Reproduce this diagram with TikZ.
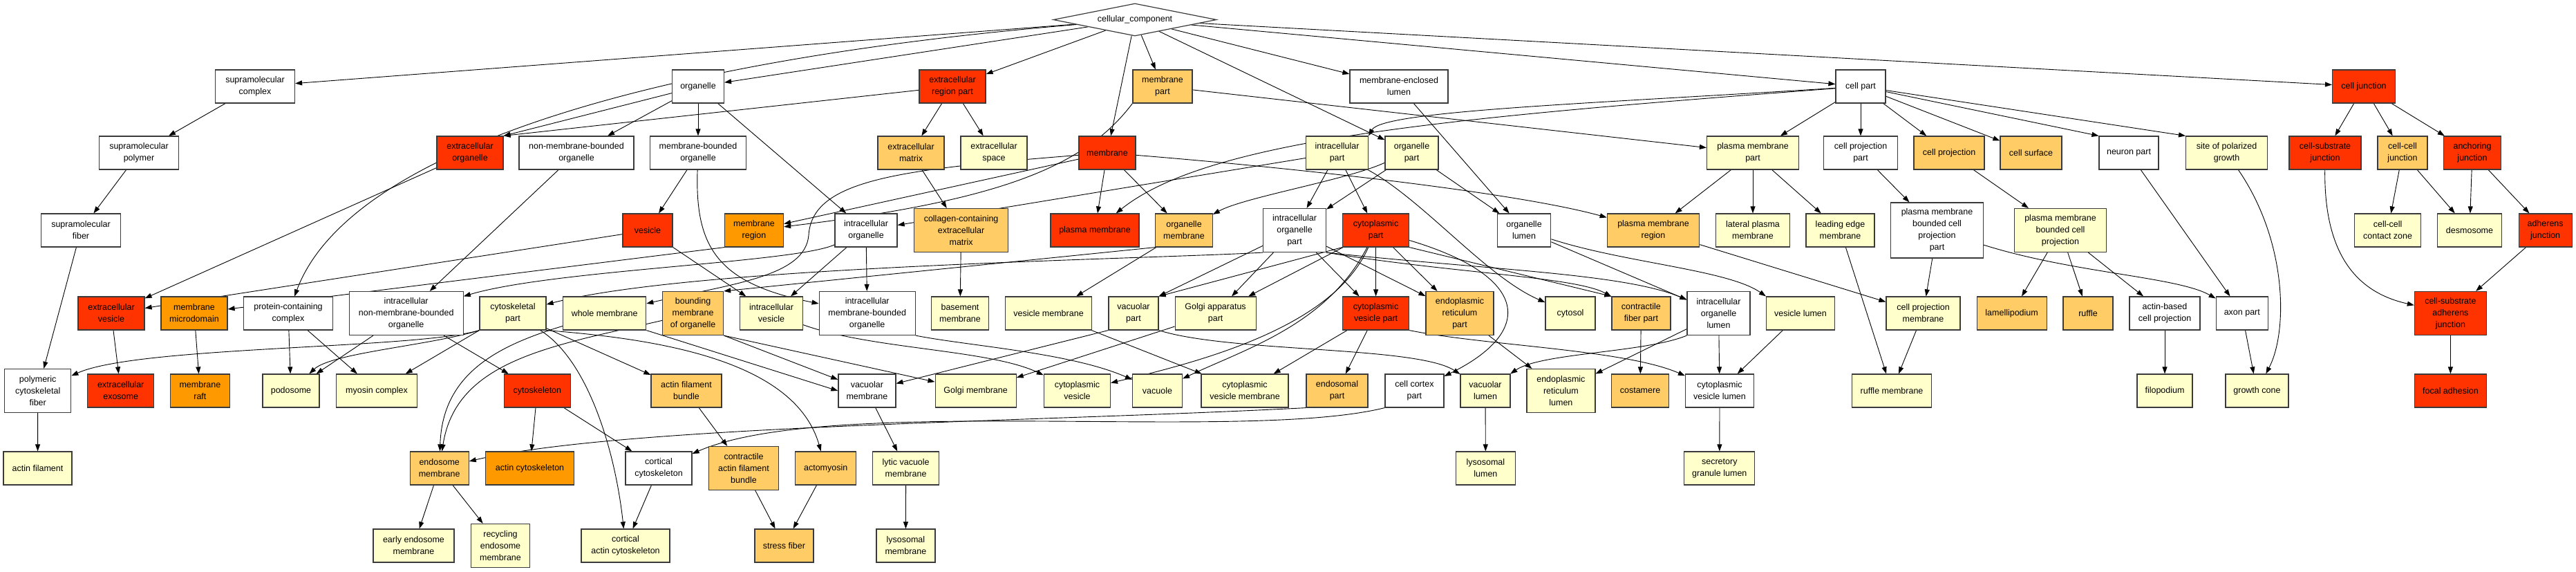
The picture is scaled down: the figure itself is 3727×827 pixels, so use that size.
\documentclass[tikz,border=0pt]{standalone}
\usepackage{fontspec}
\setmainfont{Liberation Sans}
\usetikzlibrary{shapes.geometric,arrows.meta,backgrounds}
\definecolor{cR}{HTML}{FF3300}
\definecolor{cO}{HTML}{FF9900}
\definecolor{cL}{HTML}{FFCC66}
\definecolor{cY}{HTML}{FFFFCC}
\definecolor{bord}{HTML}{3A3A3A}
\newcommand\GN[6]{\node[gb,#2,minimum width=#3pt] (#1) at (#4,#5) {#6};}
\begin{document}
\begin{tikzpicture}[x=1pt,y=-1pt,
 gb/.style={rectangle,draw=bord,line width=1.2pt,align=center,inner sep=0pt,minimum height=48pt,font=\fontsize{12.5}{17}\selectfont},
 h3box/.style={minimum height=63pt},
 h4box/.style={minimum height=80pt},
 gd/.style={diamond,draw=bord,line width=1.2pt,fill=white,aspect=5,minimum width=236pt,minimum height=47pt,inner sep=0pt,font=\fontsize{12.5}{17}\selectfont},
 ge/.style={draw=black,line width=0.9pt,-{Triangle[length=10pt,width=7pt]}}]
\useasboundingbox (0,0) rectangle (3727,827);
% ---------- nodes ----------
\node[gd] (cc) at (1642,28.5) {cellular\_component};
% row 1
\GN{supc}{fill=white}{115}{369}{125}{supramolecular\\complex}
\GN{org}{fill=white}{75}{1010}{125}{organelle}
\GN{erp}{fill=cR}{96}{1378}{125}{extracellular\\region part}
\GN{mpart}{fill=cL}{86}{1682}{125}{membrane\\part}
\GN{mel}{fill=white}{142}{2024}{125}{membrane-enclosed\\lumen}
\GN{cpart}{fill=white}{72}{2692}{125}{cell part}
\GN{cj}{fill=cR}{91}{3420}{125}{cell junction}
% row 2
\GN{supp}{fill=white}{115}{201}{221}{supramolecular\\polymer}
\GN{eorg}{fill=cR}{96}{680}{221}{extracellular\\organelle}
\GN{nmbo}{fill=white}{166}{834}{221}{non-membrane-bounded\\organelle}
\GN{mbo}{fill=white}{139}{1010}{221}{membrane-bounded\\organelle}
\GN{ecm}{fill=cL}{96}{1318}{221}{extracellular\\matrix}
\GN{esp}{fill=cY}{96}{1438}{221}{extracellular\\space}
\GN{mem}{fill=cR}{82}{1602}{221}{membrane}
\GN{icp}{fill=cY}{90}{1934.5}{221}{intracellular\\part}
\GN{orgp}{fill=cY}{77}{2042.5}{221}{organelle\\part}
\GN{pmp}{fill=cY}{133}{2536}{221}{plasma membrane\\part}
\GN{cpp}{fill=white}{107}{2692}{221}{cell projection\\part}
\GN{cproj}{fill=cL}{102}{2820}{221}{cell projection}
\GN{csurf}{fill=cL}{89}{2938.5}{221}{cell surface}
\GN{neur}{fill=white}{86}{3080}{221}{neuron part}
\GN{spg}{fill=cY}{118}{3221.6}{221}{site of polarized\\growth}
\GN{csj}{fill=cR}{104}{3364}{221}{cell-substrate\\junction}
\GN{ccj}{fill=cL}{72}{3476}{221}{cell-cell\\junction}
\GN{aj}{fill=cR}{83}{3577}{221}{anchoring\\junction}
% row 3
\GN{supf}{fill=white}{115}{117}{333}{supramolecular\\fiber}
\GN{ves}{fill=cR}{72}{937}{333}{vesicle}
\GN{mreg}{fill=cO}{85}{1091}{333}{membrane\\region}
\GN{iorg}{fill=white}{90}{1253}{333}{intracellular\\organelle}
\GN{cecm}{fill=cL,h3box}{136}{1390.6}{333}{collagen-containing\\extracellular\\matrix}
\GN{pm}{fill=cR}{128}{1584}{333}{plasma membrane}
\GN{om}{fill=cL}{82.5}{1713}{333}{organelle\\membrane}
\GN{iop}{fill=white,h3box}{91}{1873}{333}{intracellular\\organelle\\part}
\GN{cytp}{fill=cR}{96}{1990.6}{333}{cytoplasmic\\part}
\GN{olum}{fill=white}{77.5}{2205}{333}{organelle\\lumen}
\GN{pmr}{fill=cL}{133.5}{2392}{333}{plasma membrane\\region}
\GN{lpm}{fill=cY}{107}{2536}{333}{lateral plasma\\membrane}
\GN{lem}{fill=cY}{99}{2662.5}{333}{leading edge\\membrane}
\GN{pmbcpp}{fill=white,h4box}{134}{2802.5}{333}{plasma membrane\\bounded cell\\projection\\part}
\GN{pmbcp}{fill=cY,h3box}{133}{2981}{333}{plasma membrane\\bounded cell\\projection}
\GN{cccz}{fill=cY}{96}{3454.6}{333}{cell-cell\\contact zone}
\GN{desm}{fill=cY}{93}{3573}{333}{desmosome}
\GN{adj}{fill=cR}{77}{3682.6}{333}{adherens\\junction}
% row 4
\GN{ev}{fill=cR}{96}{161}{453}{extracellular\\vesicle}
\GN{mmd}{fill=cO}{96}{281}{453}{membrane\\microdomain}
\GN{pcc}{fill=white}{129}{417}{453}{protein-containing\\complex}
\GN{inmbo}{fill=white,h3box}{165}{587.7}{453}{intracellular\\non-membrane-bounded\\organelle}
\GN{cskp}{fill=cY}{96}{742}{453}{cytoskeletal\\part}
\GN{wm}{fill=cY}{120}{874.7}{453}{whole membrane}
\GN{bmo}{fill=cL,h3box}{88}{1002.6}{453}{bounding\\membrane\\of organelle}
\GN{iv}{fill=cY}{91}{1116}{453}{intracellular\\vesicle}
\GN{imbo}{fill=white,h3box}{139}{1254.7}{453}{intracellular\\membrane-bounded\\organelle}
\GN{bm}{fill=cY}{83}{1389}{453}{basement\\membrane}
\GN{vm}{fill=cY}{125}{1517}{453}{vesicle membrane}
\GN{vp}{fill=cY}{72}{1640}{453}{vacuolar\\part}
\GN{gap}{fill=cY}{117}{1758.6}{453}{Golgi apparatus\\part}
\GN{cvp}{fill=cR}{96}{1990.6}{453}{cytoplasmic\\vesicle part}
\GN{erpt}{fill=cL,h3box}{98}{2112}{453}{endoplasmic\\reticulum\\part}
\GN{cytosol}{fill=cY}{72}{2272}{453}{cytosol}
\GN{cfp}{fill=cL}{85}{2374.4}{453}{contractile\\fiber part}
\GN{iol}{fill=white,h3box}{91}{2486.5}{453}{intracellular\\organelle\\lumen}
\GN{vl}{fill=cY}{99}{2605}{453}{vesicle lumen}
\GN{cpm}{fill=cY}{107}{2782.5}{453}{cell projection\\membrane}
\GN{lam}{fill=cL}{101}{2910.6}{453}{lamellipodium}
\GN{ruf}{fill=cL}{72}{3021}{453}{ruffle}
\GN{abcp}{fill=white}{102}{3132}{453}{actin-based\\cell projection}
\GN{axp}{fill=white}{75}{3243.8}{453}{axon part}
\GN{csaj}{fill=cR,h3box}{104}{3545.4}{453}{cell-substrate\\adherens\\junction}
% row 5
\GN{pcf}{fill=white,h3box}{96}{54.7}{565}{polymeric\\cytoskeletal\\fiber}
\GN{eexo}{fill=cR}{96}{174.7}{565}{extracellular\\exosome}
\GN{mraft}{fill=cO}{86}{289.4}{565}{membrane\\raft}
\GN{podo}{fill=cY}{82}{421}{565}{podosome}
\GN{myo}{fill=cY}{117}{545}{565}{myosin complex}
\GN{csk}{fill=cR}{96}{777.4}{565}{cytoskeleton}
\GN{afb}{fill=cL}{102}{993}{565}{actin filament\\bundle}
\GN{vacm}{fill=white}{83}{1254.4}{565}{vacuolar\\membrane}
\GN{golm}{fill=cY}{117}{1411.6}{565}{Golgi membrane}
\GN{cv}{fill=cY}{96}{1558.4}{565}{cytoplasmic\\vesicle}
\GN{vac}{fill=cY}{72}{1674.5}{565}{vacuole}
\GN{cvm}{fill=cY}{126}{1801}{565}{cytoplasmic\\vesicle membrane}
\GN{endp}{fill=cL}{89}{1934.5}{565}{endosomal\\part}
\GN{ccp}{fill=white}{85}{2046.4}{565}{cell cortex\\part}
\GN{vlum}{fill=cY}{72}{2149}{565}{vacuolar\\lumen}
\GN{erl}{fill=cY,h3box}{99}{2258.4}{565}{endoplasmic\\reticulum\\lumen}
\GN{cost}{fill=cL}{83}{2373}{565}{costamere}
\GN{cvl}{fill=white}{99}{2488}{565}{cytoplasmic\\vesicle lumen}
\GN{rm}{fill=cY}{115}{2737}{565}{ruffle membrane}
\GN{filo}{fill=cY}{80}{3132}{565}{filopodium}
\GN{gc}{fill=cY}{91}{3265.4}{565}{growth cone}
\GN{fa}{fill=cR}{104}{3545.4}{565}{focal adhesion}
% row 6
\GN{af}{fill=cY}{99}{54.5}{677}{actin filament}
\GN{endm}{fill=cL}{85}{635.7}{677}{endosome\\membrane}
\GN{acsk}{fill=cO}{128}{766.5}{677}{actin cytoskeleton}
\GN{ccsk}{fill=white}{96}{953}{677}{cortical\\cytoskeleton}
\GN{cafb}{fill=cL,h3box}{101}{1076}{677}{contractile\\actin filament\\bundle}
\GN{actm}{fill=cL}{88}{1194.7}{677}{actomyosin}
\GN{lvm}{fill=cY}{96}{1310.6}{677}{lytic vacuole\\membrane}
\GN{lysl}{fill=cY}{86}{2149.4}{677}{lysosomal\\lumen}
\GN{sgl}{fill=cY}{102}{2487.8}{677}{secretory\\granule lumen}
% row 7
\GN{eem}{fill=cY}{117}{598.5}{789}{early endosome\\membrane}
\GN{rem}{fill=cY,h3box}{85}{724}{789}{recycling\\endosome\\membrane}
\GN{cacsk}{fill=cY}{128}{905}{789}{cortical\\actin cytoskeleton}
\GN{sf}{fill=cL}{85}{1134.4}{789}{stress fiber}
\GN{lysm}{fill=cY}{85}{1310.4}{789}{lysosomal\\membrane}
% ---------- edges ----------
\begin{scope}[on background layer]
\fill[white] (0,0) rectangle (3727,827);
\draw[ge] (cc) -- (supc);
\draw[ge] (cc) .. controls (900,90) and (500,230) .. (pcc);
\draw[ge] (cc) -- (org);
\draw[ge] (cc) -- (erp);
\draw[ge] (cc) -- (mem);
\draw[ge] (cc) -- (mpart);
\draw[ge] (cc) -- (mel);
\draw[ge] (cc) -- (orgp);
\draw[ge] (cc) -- (cpart);
\draw[ge] (cc) -- (cj);
\draw[ge] (supc) -- (supp);
\draw[ge] (supp) -- (supf);
\draw[ge] (supf) -- (pcf);
\draw[ge] (org) -- (eorg.north east);
\draw[ge] (org) -- (nmbo);
\draw[ge] (org) -- (mbo);
\draw[ge] (org) -- (iorg);
\draw[ge] (erp) -- (eorg.north east);
\draw[ge] (erp) -- (ecm);
\draw[ge] (erp) -- (esp);
\draw[ge] (mpart.south west) .. controls (1570,240) and (1450,290) .. (mreg);
\draw[ge] (mpart) -- (pmp);
\draw[ge] (mem) -- (pm);
\draw[ge] (mem) -- (om);
\draw[ge] (mem) -- (mreg);
\draw[ge] (mem) .. controls (1300,245) and (1175,260) .. (1170,340) .. controls (1165,400) and (1060,410) .. (wm);
\draw[ge] (mem) .. controls (1900,245) and (2200,280) .. (pmr);
\draw[ge] (mel) -- (olum);
\draw[ge] (cpart) .. controls (2300,150) and (2000,160) .. (icp.north east);
\draw[ge] (cpart) .. controls (2100,170) and (1750,200) .. (pm);
\draw[ge] (cpart) -- (pmp);
\draw[ge] (cpart) -- (cpp);
\draw[ge] (cpart) -- (cproj);
\draw[ge] (cpart) -- (csurf);
\draw[ge] (cpart) -- (neur.north west);
\draw[ge] (cpart) -- (spg.north west);
\draw[ge] (cj) -- (csj);
\draw[ge] (cj) -- (ccj);
\draw[ge] (cj) -- (aj);
\draw[ge] (eorg) -- (ev);
\draw[ge] (nmbo) -- (inmbo);
\draw[ge] (mbo) -- (ves);
\draw[ge] (mbo) .. controls (1005,360) and (1040,410) .. (imbo);
\draw[ge] (ecm) -- (cecm);
\draw[ge] (icp) -- (iorg);
\draw[ge] (icp) -- (iop);
\draw[ge] (icp) -- (cytp);
\draw[ge] (icp) .. controls (2060,290) and (2150,400) .. (cytosol);
\draw[ge] (orgp.-160) .. controls (1950,260) and (1800,285) .. (om);
\draw[ge] (orgp) -- (iop);
\draw[ge] (orgp) -- (olum);
\draw[ge] (pmp) -- (pmr);
\draw[ge] (pmp) -- (lpm);
\draw[ge] (pmp) -- (lem);
\draw[ge] (cpp) -- (pmbcpp);
\draw[ge] (cproj) -- (pmbcp);
\draw[ge] (neur) -- (axp);
\draw[ge] (spg) .. controls (3310,350) and (3310,480) .. (gc);
\draw[ge] (csj) .. controls (3362,380) and (3420,425) .. (csaj);
\draw[ge] (ccj) -- (cccz);
\draw[ge] (ccj) -- (desm);
\draw[ge] (aj) -- (desm);
\draw[ge] (aj) -- (adj);
\draw[ge] (ves) -- (ev);
\draw[ge] (ves) -- (iv);
\draw[ge] (mreg.south west) -- (mmd);
\draw[ge] (iorg) .. controls (1150,380) and (800,390) .. (inmbo);
\draw[ge] (iorg) -- (imbo);
\draw[ge] (iorg) -- (iv);
\draw[ge] (cecm) -- (bm);
\draw[ge] (om.south west) -- (bmo.north east);
\draw[ge] (om) -- (vm);
\draw[ge] (iop.south west) .. controls (1650,375) and (1000,385) .. (cskp);
\draw[ge] (iop) -- (vp.north east);
\draw[ge] (iop) -- (gap);
\draw[ge] (iop) -- (cvp);
\draw[ge] (iop) -- (erpt);
\draw[ge] (iop.south east) .. controls (2150,390) and (2350,395) .. (iol);
\draw[ge] (iop.south east) .. controls (2100,395) and (2280,400) .. (cfp);
\draw[ge] (cytp.south west) -- (vp.north east);
\draw[ge] (cytp) -- (gap);
\draw[ge] (cytp) -- (cvp);
\draw[ge] (cytp) -- (erpt);
\draw[ge] (cytp) .. controls (1930,470) and (1750,520) .. (cv);
\draw[ge] (cytp) .. controls (1920,470) and (1800,505) .. (vac);
\draw[ge] (cytp) .. controls (2215,400) and (2220,480) .. (ccp);
\draw[ge] (cytp.south east) -- (cfp.north west);
\draw[ge] (olum) -- (iol);
\draw[ge] (olum) .. controls (2350,380) and (2500,390) .. (vl.north west);
\draw[ge] (pmr) -- (cpm);
\draw[ge] (lem) -- (rm);
\draw[ge] (pmbcpp) -- (cpm);
\draw[ge] (pmbcpp) .. controls (3000,395) and (3150,400) .. (axp);
\draw[ge] (pmbcp) -- (lam);
\draw[ge] (pmbcp) -- (ruf);
\draw[ge] (pmbcp) -- (abcp);
\draw[ge] (adj) -- (csaj);
\draw[ge] (ev) -- (eexo);
\draw[ge] (mmd) -- (mraft);
\draw[ge] (pcc) -- (podo);
\draw[ge] (pcc) -- (myo);
\draw[ge] (inmbo) -- (podo);
\draw[ge] (inmbo) -- (csk);
\draw[ge] (cskp.south west) .. controls (600,505) and (200,500) .. (pcf);
\draw[ge] (cskp.south west) .. controls (620,500) and (480,510) .. (podo);
\draw[ge] (cskp.south west) -- (myo);
\draw[ge] (cskp) -- (afb);
\draw[ge] (cskp.south east) .. controls (950,490) and (1150,520) .. (actm);
\draw[ge] (cskp) .. controls (850,520) and (890,650) .. (cacsk);
\draw[ge] (wm.south east) -- (vacm.west);
\draw[ge] (wm) .. controls (720,500) and (640,540) .. (endm);
\draw[ge] (bmo.south east) -- (vacm);
\draw[ge] (bmo.south east) -- (golm);
\draw[ge] (bmo) .. controls (800,500) and (660,520) .. (endm);
\draw[ge] (iv) .. controls (1260,505) and (1430,505) .. (cv);
\draw[ge] (imbo.south east) .. controls (1400,500) and (1550,510) .. (vac);
\draw[ge] (vm) -- (cvm);
\draw[ge] (vp.south west) -- (vacm);
\draw[ge] (vp.south east) .. controls (1780,510) and (2050,500) .. (vlum);
\draw[ge] (gap) -- (golm);
\draw[ge] (cvp) -- (endp);
\draw[ge] (cvp) -- (cvm);
\draw[ge] (cvp.south east) .. controls (2150,500) and (2350,505) .. (cvl);
\draw[ge] (erpt) -- (erl);
\draw[ge] (cfp) -- (cost);
\draw[ge] (iol.south west) .. controls (2380,510) and (2230,510) .. (vlum);
\draw[ge] (iol) -- (erl);
\draw[ge] (iol) -- (cvl);
\draw[ge] (vl) -- (cvl);
\draw[ge] (cpm) -- (rm);
\draw[ge] (abcp) -- (filo);
\draw[ge] (axp) -- (gc);
\draw[ge] (csaj) -- (fa);
\draw[ge] (pcf) -- (af);
\draw[ge] (csk) -- (acsk);
\draw[ge] (csk) -- (ccsk);
\draw[ge] (afb) -- (cafb);
\draw[ge] (vacm) -- (lvm);
\draw[ge] (endp.south west) .. controls (1500,610) and (900,615) .. (endm);
\draw[ge] (ccp.south west) .. controls (1800,640) and (1200,570) .. (ccsk);
\draw[ge] (vlum) -- (lysl);
\draw[ge] (cvl) -- (sgl);
\draw[ge] (ccsk) -- (cacsk);
\draw[ge] (cafb) -- (sf);
\draw[ge] (actm) -- (sf);
\draw[ge] (lvm) -- (lysm);
\draw[ge] (endm) -- (eem);
\draw[ge] (endm) -- (rem);
\end{scope}
\end{tikzpicture}
\end{document}
